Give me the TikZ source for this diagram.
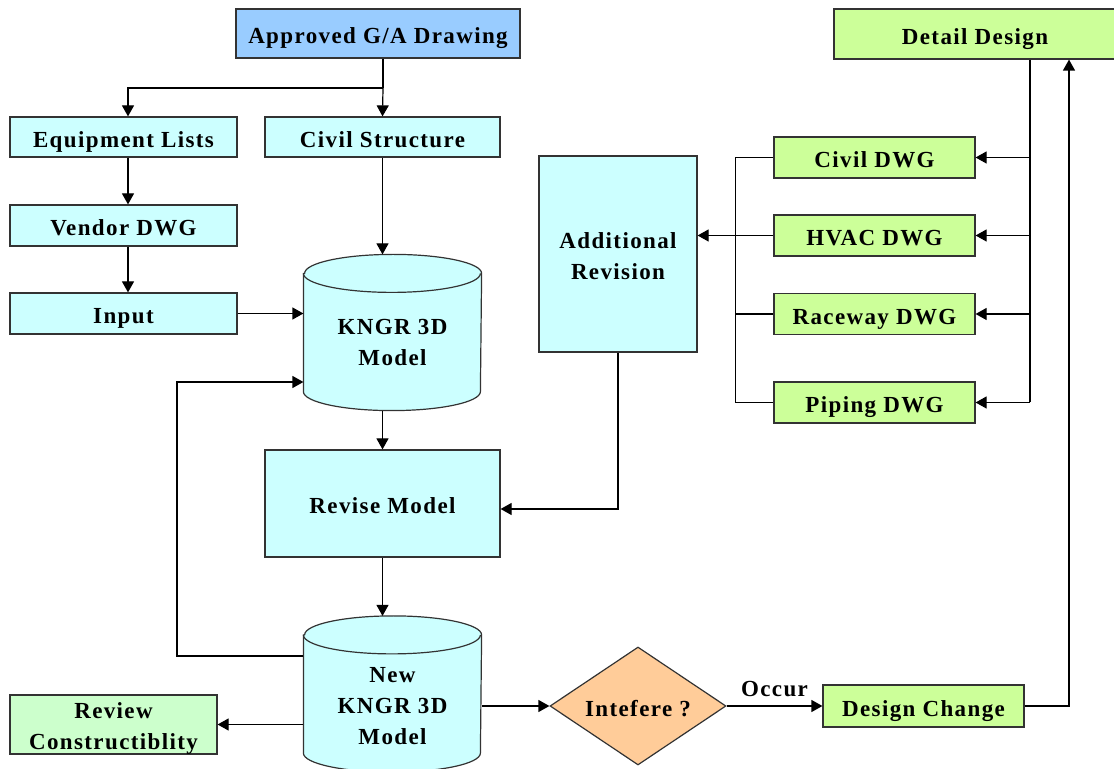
\documentclass[tikz,border=0pt]{standalone}
\usepackage{fontspec}
\setmainfont{Liberation Serif}
\usetikzlibrary{shapes.geometric,arrows.meta,calc}
\definecolor{cyanbox}{HTML}{CCFFFF}
\definecolor{bluebox}{HTML}{99CCFF}
\definecolor{greenbox}{HTML}{CCFF99}
\definecolor{mintbox}{HTML}{CCFFCC}
\definecolor{orangebox}{HTML}{FFCC99}
\tikzset{
  box/.style={draw=black!80, fill=cyanbox, inner sep=0pt, align=center},
  oneline/.style={text height=10.5pt, text depth=0pt},
  dwgbox/.style={box, oneline, fill=greenbox, minimum width=100.5pt, minimum height=20.5pt},
  cylframe/.style={inner sep=0pt, minimum width=88.5pt, minimum height=77.5pt},
  arr/.style={-{Triangle[length=5.5pt,width=6pt]}},
}
% cylinder drawn round an empty frame node
\newcommand\drawcyl[1]{
  \draw[draw=black!80, fill=cyanbox] ([yshift=-9.5pt]#1.north west) -- ([yshift=9.5pt]#1.south west)
    arc[start angle=180, end angle=360, x radius=44.25pt, y radius=9.5pt]
    -- ([yshift=-9.5pt]#1.north east)
    arc[start angle=0, end angle=180, x radius=44.25pt, y radius=9.5pt] -- cycle;
  \draw[black!80] ([yshift=-9.5pt]#1.north west)
    arc[start angle=180, end angle=360, x radius=44.25pt, y radius=9.5pt];
}
\newcommand\twolines[2]{\raisebox{#1}[0pt][0pt]{\begin{tabular}{@{}c@{}}#2\end{tabular}}}
\begin{document}
\begin{tikzpicture}[x=0.5pt, y=-0.5pt, line width=0.6pt,
    font=\bfseries\fontsize{11.5}{15.5}\selectfont\addfontfeature{LetterSpace=6}]
  \useasboundingbox (0,0) rectangle (1114,769);

  % left column
  \node[box, oneline, fill=bluebox, minimum width=142pt, minimum height=24.5pt] (app) at (378,33.5) {Approved G/A Drawing};
  \node[box, oneline, minimum width=113.5pt, minimum height=20pt] (eq) at (123.5,137) {Equipment Lists};
  \node[box, oneline, minimum width=117.5pt, minimum height=20pt] (civ) at (382.5,137) {Civil Structure};
  \node[box, oneline, minimum width=113.5pt, minimum height=20.5pt] (ven) at (123.5,225.5) {Vendor DWG};
  \node[box, oneline, minimum width=113.5pt, minimum height=20.5pt] (inp) at (123.5,313.5) {Input};
  \node[cylframe] (model) at (392.5,332.5) {};
  \drawcyl{model}
  \node at ([yshift=-5pt]model.center) [align=center] {KNGR 3D\\Model};
  \node[box, oneline, minimum width=117.5pt, minimum height=53.5pt] (rev) at (382.5,503.5) {Revise Model};
  \node[cylframe] (newm) at (392.5,694) {};
  \drawcyl{newm}
  \node at ([yshift=-6pt]newm.center) [align=center] {New\\KNGR 3D\\Model};
  \node[box, fill=mintbox, minimum width=103.5pt, minimum height=29.5pt] (review) at (113.5,724.5)
    {\twolines{-4.8pt}{Review\\Constructiblity}};
  \node[diamond, draw=black!80, fill=orangebox, inner sep=0pt, aspect=1.5, oneline,
        minimum width=88pt, minimum height=59pt] (diam) at (638,706) {Intefere ?};

  % right column
  \node[box, oneline, fill=greenbox, minimum width=141pt, minimum height=25pt] (detail) at (975,34) {Detail Design};
  \node[dwgbox] (civd) at (874.5,157.5) {Civil DWG};
  \node[dwgbox] (hvac) at (874.5,235.5) {HVAC DWG};
  \node[dwgbox] (race) at (874.5,314) {Raceway DWG};
  \node[dwgbox] (pip) at (874.5,402.5) {Piping DWG};
  \node[box, minimum width=79pt, minimum height=98pt] (addrev) at (618,254)
    {\twolines{-4.8pt}{Additional\\Revision}};
  \node[box, oneline, fill=greenbox, minimum width=100.5pt, minimum height=21pt] (dchg) at (923.5,706) {Design Change};

  % connectors
  \coordinate (split) at (383,88);
  \draw (app.south -| split) -- (split);
  \draw[arr] (split) -| ([xshift=2.25pt]eq.north);
  \draw[arr] (split) -- (civ.north);
  \draw[arr] ([xshift=2.25pt]eq.south) -- ([xshift=2.25pt]ven.north);
  \draw[arr] ([xshift=2.25pt]ven.south) -- ([xshift=2.25pt]inp.north);
  \draw[arr] (civ.south) -- (civ.south |- model.north);
  \draw[arr] (inp.east) -- (inp.east -| model.west);
  \draw[arr] (rev.north |- model.south) -- (rev.north);
  \draw[arr] (rev.south) -- (rev.south |- newm.north);
  \coordinate (fb1) at (177,656);
  \coordinate (fb2) at (177,382);
  \draw[arr] (newm.west |- fb1) -- (fb1) -- (fb2) -- (model.west |- fb2);
  \draw[arr] (review.east -| newm.west) -- (review.east);
  \draw[arr] (diam.west -| newm.east) -- (diam.west);
  \draw[arr] (diam.east) -- node[above=1pt] {Occur} (dchg.west);
  \draw[arr] (dchg.east) -| ([xshift=47pt]detail.south);

  \coordinate (rbus) at ([xshift=27.5pt]detail.south);
  \draw (rbus) -- (rbus |- pip.east);
  \foreach \n in {civd,hvac,race,pip}
    \draw[arr] (rbus |- \n.east) -- (\n.east);
  \coordinate (lbus) at (735.5,0);
  \draw (civd.west) -- (civd.west -| lbus) -- (pip.west -| lbus) -- (pip.west);
  \draw (race.west) -- (race.west -| lbus);
  \draw[arr] (hvac.west) -- (addrev.east |- hvac.west);
  \draw[arr] (addrev.south) |- ([yshift=-2.75pt]rev.east);
\end{tikzpicture}
\end{document}
